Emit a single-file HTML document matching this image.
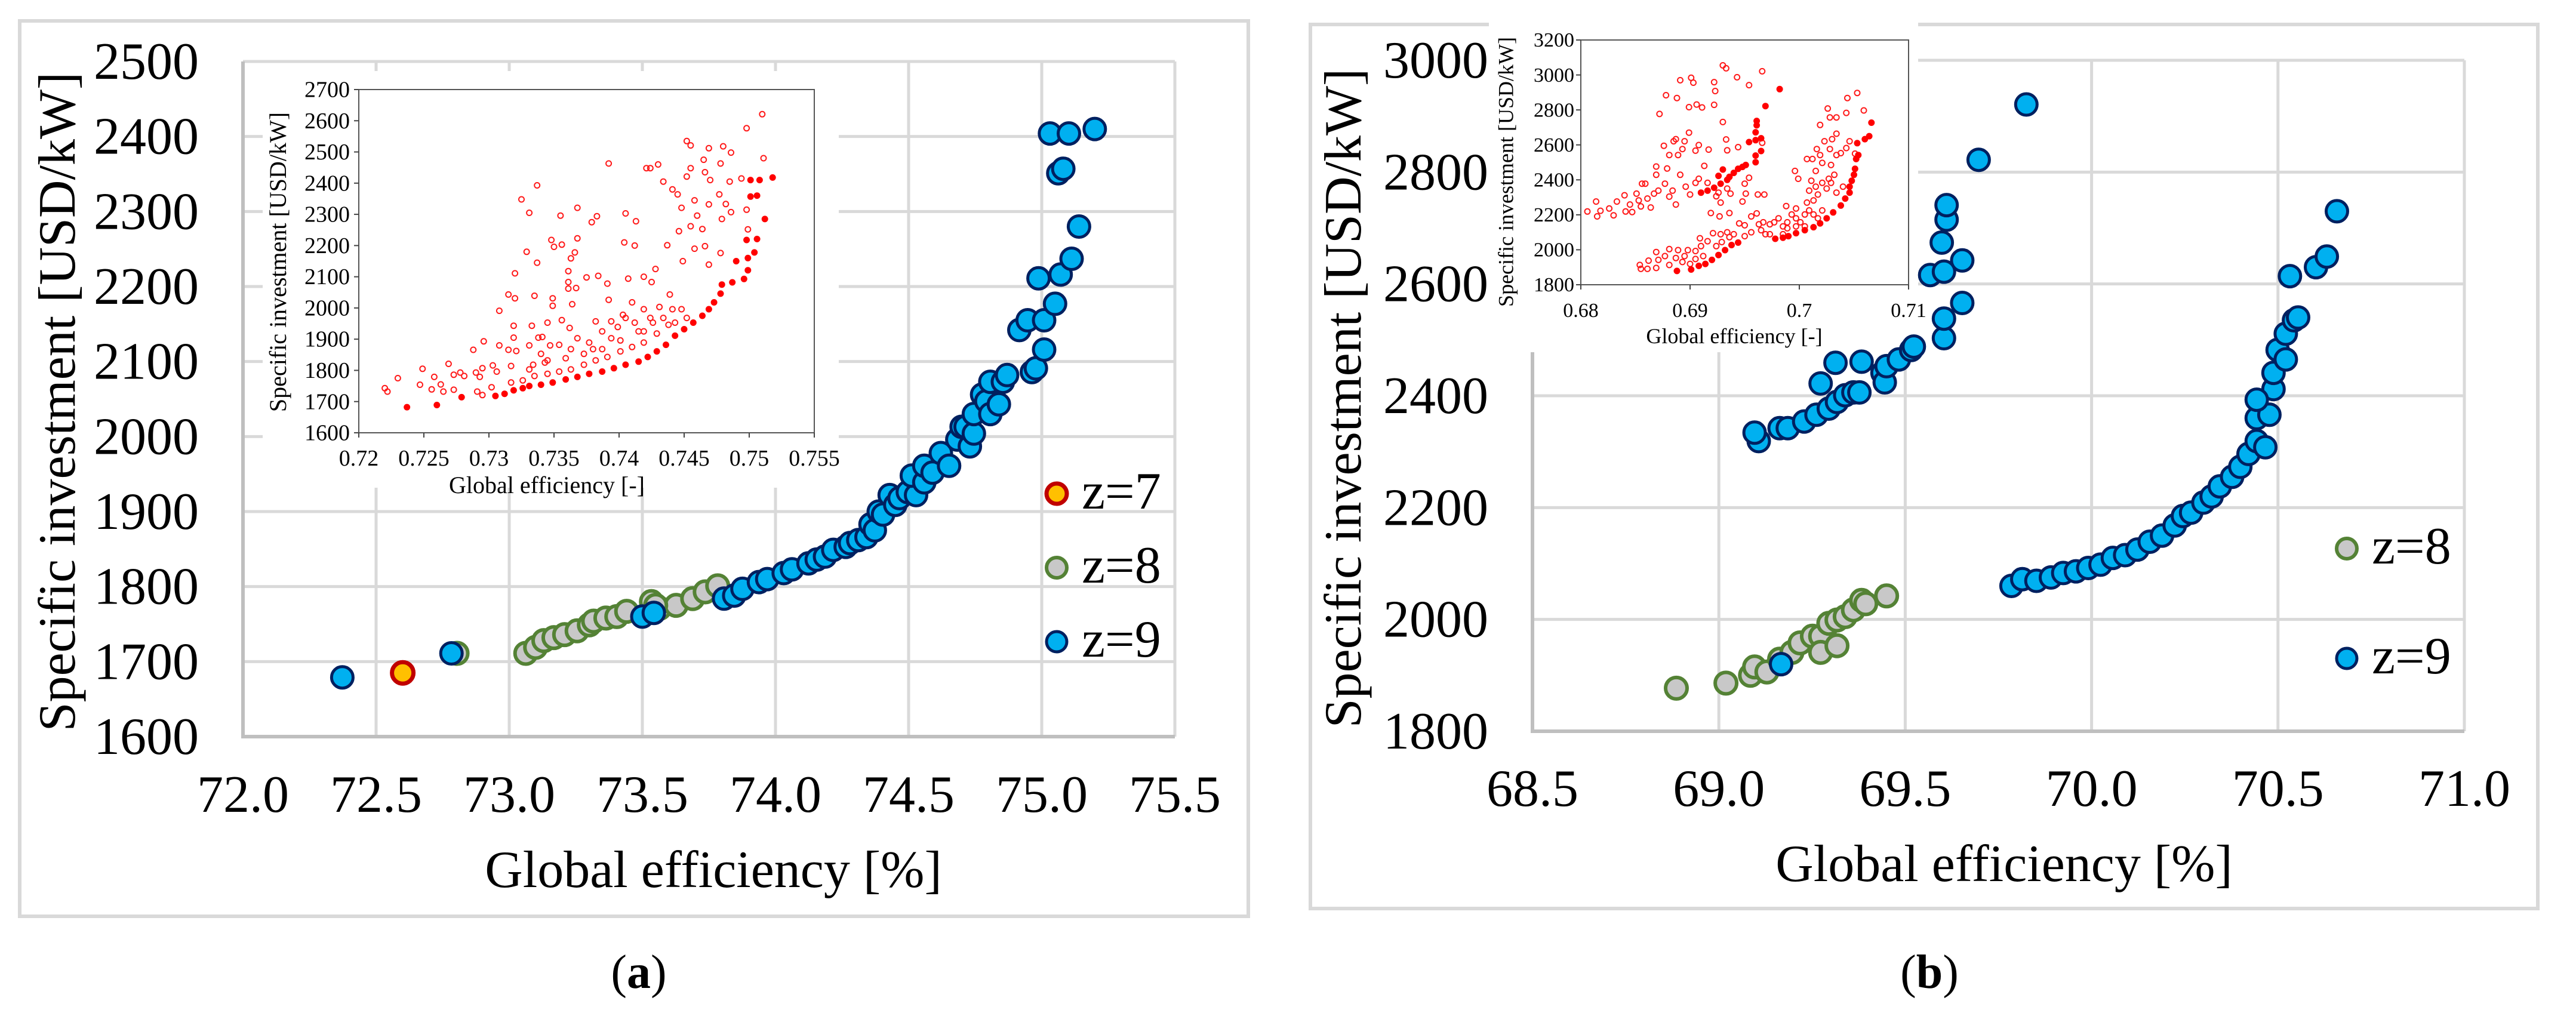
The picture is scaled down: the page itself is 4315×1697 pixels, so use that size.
<!DOCTYPE html>
<html><head><meta charset="utf-8"><style>
html,body{margin:0;padding:0;background:#fff;}
svg{display:block;}
svg text{font-family:"Liberation Serif","DejaVu Serif","Noto Serif CJK SC",serif;}
</style></head><body>
<svg id="fig" width="4315" height="1697" viewBox="0 0 4315 1697" xmlns="http://www.w3.org/2000/svg">
<rect x="0" y="0" width="4315" height="1697" fill="#fff"/>
<rect x="33" y="35" width="2058" height="1500" fill="none" stroke="#d9d9d9" stroke-width="6"/>
<rect x="2195" y="41" width="2056" height="1481" fill="none" stroke="#d9d9d9" stroke-width="6"/>
<g id="pa"></g>
<g id="pb"></g>
<text x="105" y="673" font-size="88" text-anchor="middle" dominant-baseline="middle" transform="rotate(-90 105 673)">Specific investment [USD/kW]</text>
<text x="1195" y="1486" font-size="88" text-anchor="middle">Global efficiency [%]</text>
<text x="1070" y="1655" font-size="80" text-anchor="middle">(<tspan font-weight="bold">a</tspan>)</text>
<text x="2259" y="667" font-size="88" text-anchor="middle" dominant-baseline="middle" transform="rotate(-90 2259 667)">Specific investment [USD/kW]</text>
<text x="3357" y="1476" font-size="88" text-anchor="middle">Global efficiency [%]</text>
<text x="3232" y="1655" font-size="80" text-anchor="middle">(<tspan font-weight="bold">b</tspan>)</text>
</svg>
<script>
// ---------- Panel (a) main data ----------
const aXTicks = [72.0, 72.5, 73.0, 73.5, 74.0, 74.5, 75.0, 75.5];
const aYTicks = [1600, 1700, 1800, 1900, 2000, 2100, 2200, 2300, 2400, 2500];
const a7x = [72.60];
const a7y = [1685];
const a8x = [72.804,73.062,73.099,73.130,73.168,73.208,73.255,73.301,73.317,73.363,73.404,73.441,73.534,73.565,73.627,73.689,73.736,73.783,73.550];
const a8y = [1711,1711,1719,1728,1732,1736,1741,1749,1754,1758,1760,1767,1780,1771,1775,1784,1793,1801,1775];
const a9x = [72.373,72.783,73.500,73.543,73.807,73.845,73.876,73.938,73.969,74.031,74.062,74.124,74.155,74.186,74.217,74.264,74.280,74.311,74.342,74.357,74.373,74.388,74.404,74.429,74.450,74.466,74.497,74.528,74.512,74.559,74.559,74.590,74.621,74.652,74.683,74.699,74.714,74.730,74.745,74.745,74.776,74.792,74.807,74.807,74.839,74.854,74.870,74.916,74.947,74.963,74.978,75.009,75.009,74.988,75.050,75.071,75.112,75.140,75.031,75.102,75.199,75.062,75.081];
const a9y = [1679,1711,1760,1765,1784,1788,1797,1806,1810,1818,1823,1831,1836,1840,1849,1853,1858,1862,1866,1883,1875,1900,1896,1922,1909,1918,1926,1922,1948,1939,1961,1952,1978,1961,1996,2013,2013,1987,2004,2030,2056,2047,2073,2030,2043,2073,2082,2142,2155,2086,2091,2116,2155,2211,2177,2216,2237,2280,2404,2404,2410,2351,2357];
// ---------- Panel (a) inset data ----------
const iaXTicks = [0.72,0.725,0.73,0.735,0.74,0.745,0.75,0.755];
const iaXLabels = ["0.72","0.725","0.73","0.735","0.74","0.745","0.75","0.755"];
const iaYTicks = [1600,1700,1800,1900,2000,2100,2200,2300,2400,2500,2600,2700];
const iaFx = [.7237,.7260,.7279,.7305,.7312,.7319,.7326,.7331,.7340,.7349,.7359,.7368,.7377,.7387,.7396,.7405,.7415,.7422,.7429,.7436,.7443,.7450,.7457,.7464,.7469,.7473,.7478,.7479,.7487,.7496,.7499,.7490,.7499,.7504,.7506,.7498,.7512,.7501,.7506,.7501,.7508,.7518];
const iaFy = [1682,1689,1714,1718,1725,1736,1743,1750,1754,1761,1771,1779,1789,1796,1807,1818,1828,1843,1861,1882,1911,1932,1953,1975,1996,2018,2046,2075,2082,2093,2121,2150,2160,2178,2221,2218,2285,2357,2360,2410,2410,2418];
const iaHx = [.7220,.7222,.7230,.7247,.7249,.7256,.7258,.7263,.7265,.7269,.7273,.7273,.7278,.7281,.7288,.7290,.7291,.7293,.7295,.7295,.7296,.7302,.7303,.7306,.7308,.7308,.7315,.7315,.7317,.7319,.7319,.7320,.7320,.7321,.7325,.7329,.7331,.7331,.7333,.7334,.7335,.7337,.7337,.7338,.7341,.7343,.7345,.7347,.7348,.7349,.7349,.7350,.7355,.7356,.7356,.7361,.7361,.7361,.7362,.7363,.7364,.7366,.7367,.7368,.7368,.7375,.7379,.7382,.7383,.7384,.7391,.7392,.7392,.7394,.7403,.7404,.7405,.7407,.7410,.7412,.7413,.7419,.7421,.7424,.7425,.7428,.7430,.7434,.7437,.7439,.7441,.7445,.7446,.7448,.7449,.7452,.7452,.7455,.7455,.7455,.7458,.7458,.7460,.7464,.7465,.7466,.7466,.7469,.7469,.7469,.7470,.7477,.7478,.7478,.7479,.7480,.7482,.7485,.7486,.7486,.7494,.7498,.7498,.7499,.7510,.7511,
.7335,.7345,.7354,.7363,.7373,.7382,.7391,.7401,.7410,.7419,.7429,.7438,.7359,.7373,.7387,.7401,.7415,.7426,.7326,.7317,.7377,.7394,.7405,.7419,.7431,.7441,.7448,.7452,.7443,.7345,.7331,.7340,.7354,.7368,.7387,.7399,.7412,.7424,.7363,.7380,.7419,.7434];
const iaHy = [1743,1732,1775,1754,1805,1739,1779,1755,1732,1821,1786,1738,1793,1782,1866,1793,1732,1779,1721,1807,1893,1746,1816,1796,1880,1991,1866,2043,1814,1943,1905,2111,2031,1862,2348,2180,1880,2305,1943,1818,2039,2145,2393,1905,1907,1825,1953,1880,2218,2031,2007,2196,2296,1961,2203,2118,2083,2062,1936,2159,2012,2178,2064,2321,2223,2098,2275,1957,2294,2103,2078,2463,2026,1957,1978,2210,2303,2094,2018,2200,2278,2100,2448,2448,2083,2125,2460,2405,2201,2043,2380,2364,2246,2321,2150,2421,2535,2521,2448,2262,2345,2190,2296,2253,2475,2198,2435,2512,2332,2139,2410,2364,2176,2463,2285,2518,2333,2405,2498,2307,2415,2315,2576,2252,2621,2480,
1782,1789,1796,1803,1818,1832,1843,1861,1875,1889,1918,1946,1839,1853,1868,1896,1925,1953,1768,1761,1889,1903,1968,1996,2003,1996,1996,1968,1953,1832,1803,1853,1882,1903,1925,1939,1953,1968,1868,1868,1925,1968];
// ---------- Panel (b) main data ----------
const bXTicks = [68.5, 69.0, 69.5, 70.0, 70.5, 71.0];
const bYTicks = [1800, 2000, 2200, 2400, 2600, 2800, 3000];
const b8x = [68.886,69.019,69.085,69.096,69.129,69.163,69.196,69.218,69.251,69.273,69.295,69.317,69.339,69.361,69.383,69.394,69.450,69.273,69.317];
const b8y = [1877,1886,1900,1915,1906,1929,1941,1958,1970,1970,1993,1999,2005,2017,2034,2028,2042,1941,1953];
const b9x = [69.107,69.096,69.163,69.185,69.229,69.262,69.295,69.317,69.339,69.361,69.377,69.273,69.313,69.383,69.439,69.445,69.450,69.483,69.516,69.523,69.567,69.604,69.604,69.604,69.598,69.611,69.611,69.653,69.653,69.697,69.825,
69.785,69.814,69.852,69.891,69.924,69.958,69.991,70.024,70.057,70.090,70.123,70.156,70.189,70.223,70.245,70.267,70.300,70.322,70.344,70.377,70.399,70.421,70.443,70.443,70.466,70.477,70.488,70.488,70.499,70.521,70.521,70.543,70.554,70.443,70.532,70.602,70.631,70.658,69.167];
const b9y = [2319,2334,2342,2342,2354,2366,2377,2389,2401,2406,2406,2422,2459,2461,2441,2424,2453,2465,2482,2488,2616,2622,2503,2538,2674,2715,2741,2642,2566,2822,2921,
2060,2072,2069,2075,2083,2086,2092,2098,2110,2115,2125,2139,2150,2168,2185,2191,2209,2220,2238,2255,2273,2296,2319,2360,2308,2366,2412,2441,2482,2465,2511,2535,2540,2393,2614,2630,2649,2730,1920];
// ---------- Panel (b) inset data ----------
const ibXTicks = [0.68,0.69,0.70,0.71];
const ibXLabels = ["0.68","0.69","0.7","0.71"];
const ibYTicks = [1800,2000,2200,2400,2600,2800,3000,3200];
const ibFx = [.6888,.6901,.6908,.6914,.6920,.6926,.6932,.6938,.6944,.6910,.6916,.6922,.6928,.6934,.6936,.6940,.6944,.6948,.6951,.6930,.6926,.6954,.6960,.6960,.6961,.6961,.6965,.6965,.6960,.6960,.6969,.6982,
.6978,.6985,.6990,.6997,.7005,.7013,.7019,.7025,.7031,.7038,.7042,.7046,.7046,.7048,.7050,.7051,.7052,.7054,.7053,.7060,.7064,.7066];
const ibFy = [1879,1887,1908,1919,1942,1970,1998,2027,2041,2327,2338,2355,2378,2400,2417,2440,2463,2474,2485,2459,2423,2616,2627,2672,2712,2737,2638,2565,2539,2501,2822,2919,
2063,2069,2078,2095,2112,2129,2151,2180,2214,2253,2293,2327,2361,2395,2429,2463,2519,2542,2610,2633,2650,2727];
const ibHx = [.6806,.6814,.6815,.6818,.6826,.6830,.6833,.6840,.6841,.6847,.6851,.6855,.6856,.6859,.6864,.6867,.6869,.6869,.6872,.6876,.6877,.6879,.6881,.6881,.6885,.6887,.6887,.6888,.6889,.6891,.6893,.6895,.6899,.6899,.6901,.6903,.6905,.6906,.6908,.6911,.6913,.6917,.6919,.6922,.6922,.6923,.6924,.6927,.6928,.6930,.6930,.6933,.6933,.6934,.6936,.6937,.6943,.6944,.6948,.6950,.6951,.6954,.6954,.6962,.6966,.6968,.6966,.6878,.6891,.6905,.6896,.6884,.6871,.6900,.6908,.6916,.6926,.6934,.6861,.6853,.6845,
.6854,.6855,.6861,.6862,.6869,.6869,.6871,.6877,.6881,.6881,.6887,.6889,.6893,.6895,.6898,.6900,.6905,.6905,.6909,.6910,.6912,.6916,.6921,.6924,.6928,.6929,.6934,.6936,.6940,.6945,.6950,.6950,.6956,.6956,.6961,.6963,.6967,.6969,.6973,.6977,.6981,.6985,.6989,.6993,.6997,.7001,.7005,.7009,.7013,.7017,.7021,.7007,.7013,.7017,.7009,.7015,.7021,.7025,.7027,.7029,.7034,.7040,.6996,.6999,.7007,.7012,.7011,.7015,.7016,.7019,.7021,.7023,.7028,.7029,.7032,.7034,.7038,.7043,.7046,.7034,.7030,.7028,.7026,.7034,.7019,.7043,.7044,.7053,.7059,.7051,.6988,.6997,.6989,.6997,.7005,.6973,.6965,.6985];
const ibHy = [2219,2276,2191,2223,2236,2197,2276,2312,2219,2216,2321,2248,2378,2378,2242,2321,2476,2429,2777,2595,2378,2465,2542,2304,2621,2633,2259,2868,2542,2429,2576,2621,2670,2816,2984,2956,2567,2831,2599,2814,2480,2573,2210,2959,2829,2908,2306,2191,2270,2731,3055,3038,2631,2569,2210,2321,2987,2587,2276,2378,2321,2942,2412,2316,3021,2316,2612,2884,2970,2383,2361,2338,2338,2316,2406,2383,2327,2350,2293,2282,2259,
1913,1891,1891,1938,1896,1987,1942,1964,2004,1913,1953,1998,1930,1964,1998,1919,1947,1993,2066,2021,1964,2049,2095,2021,2089,2044,2100,2072,2089,2151,2140,2078,2100,2191,2208,2146,2157,2089,2146,2157,2180,2134,2157,2202,2180,2157,2202,2225,2202,2180,2225,2270,2282,2316,2338,2361,2383,2350,2406,2383,2327,2361,2451,2406,2519,2519,2395,2451,2576,2542,2497,2621,2576,2485,2429,2542,2553,2582,2621,2664,2633,2757,2808,2757,2714,2783,2868,2897,2797,2550,2250,2236,2123,2134,2134,2089,2112,2089];

const NS = "http://www.w3.org/2000/svg";
function mk(parent, tag, attrs) {
  const e = document.createElementNS(NS, tag);
  for (const k in attrs) e.setAttribute(k, attrs[k]);
  parent.appendChild(e);
  return e;
}
function lin(d0, d1, r0, r1) { return v => r0 + (v - d0) * (r1 - r0) / (d1 - d0); }

function mainPanel(g, o) {
  const sx = lin(o.xd[0], o.xd[1], o.xr[0], o.xr[1]);
  const sy = lin(o.yd[0], o.yd[1], o.yr[0], o.yr[1]);
  o.xt.forEach(v => {
    const l = mk(g, "line", {x1: sx(v), x2: sx(v), y1: o.yr[1], y2: o.yr[0], stroke: "#d9d9d9", "stroke-width": 5});
    
    
    const t = mk(g, "text", {x: sx(v), y: o.xLabY, "font-size": 88, "text-anchor": "middle"});
    t.textContent = v.toFixed(1);
    
    
  });
  o.yt.forEach(v => {
    const l = mk(g, "line", {x1: o.xr[0], x2: o.xr[1], y1: sy(v), y2: sy(v), stroke: "#d9d9d9", "stroke-width": 5});
    
    
    const t = mk(g, "text", {x: o.yLabX, y: sy(v) + 29, "font-size": 88, "text-anchor": "end"});
    t.textContent = String(v);
    
    
  });
  const ax = mk(g, "path", {d: `M${o.xr[0]},${o.yr[1]} V${o.yr[0]} H${o.xr[1]}`, fill: "none", stroke: "#bfbfbf", "stroke-width": 6});
  
  
  return {sx, sy};
}
function dots(g, xs, ys, sx, sy, r, fill, stroke, sw, name) {
  for (let i = 0; i < xs.length; i++) {
    const c = mk(g, "circle", {cx: sx(xs[i]).toFixed(1), cy: sy(ys[i]).toFixed(1), r: r, fill: fill, stroke: stroke, "stroke-width": sw});
    
    
  }
}
function inset(g, o) {
  const bg = mk(g, "rect", {x: o.bg[0], y: o.bg[1], width: o.bg[2], height: o.bg[3], fill: "#fff"});
  
  
  const sx = lin(o.xd[0], o.xd[1], o.xr[0], o.xr[1]);
  const sy = lin(o.yd[0], o.yd[1], o.yr[0], o.yr[1]);
  const box = mk(g, "rect", {x: o.xr[0], y: o.yr[1], width: o.xr[1] - o.xr[0], height: o.yr[0] - o.yr[1], fill: "none", stroke: "#555", "stroke-width": 2});
  
  
  o.xt.forEach((v, i) => {
    const tk = mk(g, "line", {x1: sx(v), x2: sx(v), y1: o.yr[0], y2: o.yr[0] + 8, stroke: "#444", "stroke-width": 2});
    
    
    const t = mk(g, "text", {x: sx(v), y: o.xLabY, "font-size": o.fs, "text-anchor": "middle"});
    t.textContent = o.xl[i];
    
    
  });
  o.yt.forEach(v => {
    const tk = mk(g, "line", {x1: o.xr[0] - 8, x2: o.xr[0], y1: sy(v), y2: sy(v), stroke: "#444", "stroke-width": 2});
    
    
    const t = mk(g, "text", {x: o.yLabX, y: sy(v) + o.fs * 0.33, "font-size": o.fs, "text-anchor": "end"});
    t.textContent = String(v);
    
    
  });
  const xt = mk(g, "text", {x: o.xTitle[0], y: o.xTitle[1], "font-size": o.tfs, "text-anchor": "middle"});
  xt.textContent = "Global efficiency [-]";
  
  
  const yt = mk(g, "text", {x: o.yTitle[0], y: o.yTitle[1], "font-size": o.tfs, "text-anchor": "middle", "dominant-baseline": "middle", transform: `rotate(-90 ${o.yTitle[0]} ${o.yTitle[1]})`});
  yt.textContent = "Specific investment [USD/kW]";
  
  
  dots(g, o.hx, o.hy, sx, sy, 4.5, "none", "#ff1a1a", 2, "inset-hollow-point");
  dots(g, o.fx, o.fy, sx, sy, 5, "#ff0000", "#ff0000", 1, "inset-filled-point");
}
function legend(g, items) {
  items.forEach(it => {
    const c = mk(g, "circle", {cx: it.x, cy: it.y, r: 17, fill: it.fill, stroke: it.stroke, "stroke-width": it.sw});
    
    
    const t = mk(g, "text", {x: it.x + 42, y: it.y + 25, "font-size": 88});
    t.textContent = it.label;
    
    
  });
}

// Panel a
const ga = document.getElementById("pa");
const A = mainPanel(ga, {xd: [72, 75.5], xr: [407, 1968], yd: [1600, 2500], yr: [1234, 103], xt: aXTicks, yt: aYTicks, xLabY: 1360, yLabX: 333});
inset(ga, {bg: [440, 119, 965, 698], xd: [0.72, 0.755], xr: [601, 1364], yd: [1600, 2700], yr: [725, 150],
  xt: iaXTicks, xl: iaXLabels, yt: iaYTicks, xLabY: 780, yLabX: 586, fs: 38, tfs: 40,
  xTitle: [916, 826], yTitle: [470, 439], hx: iaHx, hy: iaHy, fx: iaFx, fy: iaFy});
dots(ga, a8x, a8y, A.sx, A.sy, 18, "#c8c8c8", "#548235", 6, "z8-point");
dots(ga, a9x, a9y, A.sx, A.sy, 18, "#00b0f0", "#002060", 5, "z9-point");
dots(ga, a7x, a7y, A.sx, A.sy, 18, "#ffc000", "#c00000", 7, "z7-point");
legend(ga, [
  {x: 1770, y: 827, fill: "#ffc000", stroke: "#c00000", sw: 7, label: "z=7"},
  {x: 1770, y: 951, fill: "#c8c8c8", stroke: "#548235", sw: 6, label: "z=8"},
  {x: 1770, y: 1075, fill: "#00b0f0", stroke: "#002060", sw: 5, label: "z=9"}
]);

// Panel b
const gb = document.getElementById("pb");
const B = mainPanel(gb, {xd: [68.5, 71.0], xr: [2567, 4128], yd: [1800, 3000], yr: [1225, 101], xt: bXTicks, yt: bYTicks, xLabY: 1350, yLabX: 2493});
inset(gb, {bg: [2494, 38, 719, 552], xd: [0.68, 0.71], xr: [2648, 3197], yd: [1800, 3200], yr: [477, 67],
  xt: ibXTicks, xl: ibXLabels, yt: ibYTicks, xLabY: 531, yLabX: 2637, fs: 34, tfs: 36,
  xTitle: [2905, 575], yTitle: [2526, 288], hx: ibHx, hy: ibHy, fx: ibFx, fy: ibFy});
dots(gb, b8x, b8y, B.sx, B.sy, 18, "#c8c8c8", "#548235", 6, "z8-point");
dots(gb, b9x, b9y, B.sx, B.sy, 18, "#00b0f0", "#002060", 5, "z9-point");
legend(gb, [
  {x: 3931, y: 919, fill: "#c8c8c8", stroke: "#548235", sw: 6, label: "z=8"},
  {x: 3931, y: 1103, fill: "#00b0f0", stroke: "#002060", sw: 5, label: "z=9"}
]);
</script>
</body></html>
